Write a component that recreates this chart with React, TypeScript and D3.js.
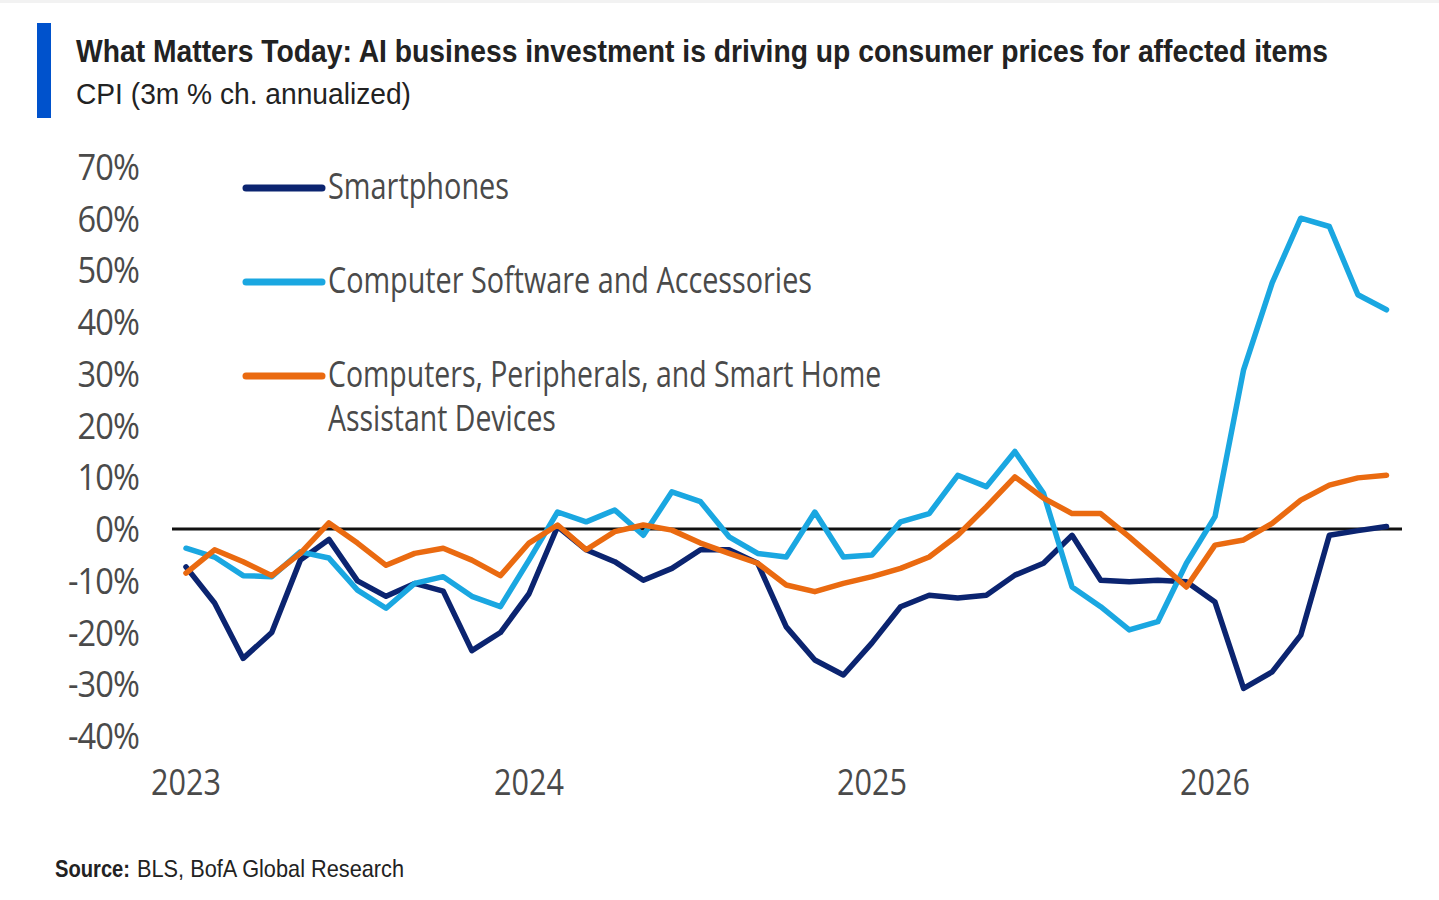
import React, { useLayoutEffect, useRef, useState } from "react";
import * as d3 from "d3";

const startMonth = new Date(2023, 0, 1);
const monthCount = 43;
const months: Date[] = d3.timeMonth.range(startMonth, d3.timeMonth.offset(startMonth, monthCount));

const smartphones: number[] = [
  -7.3, -14.3, -25, -20, -6, -2, -10, -13, -10.5, -12, -23.5, -20,
  -12.5, 0.5, -4, -6.3, -9.9, -7.6, -4, -4, -6.6, -18.9, -25.3, -28.2,
  -22, -15, -12.8, -13.3, -12.8, -8.9, -6.6, -1.2, -9.9, -10.2, -9.9, -10.2,
  -14.1, -30.8, -27.6, -20.5, -1.2, -0.3, 0.5,
];
const software: number[] = [
  -3.7, -5.4, -9, -9.2, -4.4, -5.6, -11.8, -15.3, -10.5, -9.2, -13, -15,
  -6, 3.3, 1.4, 3.7, -1.2, 7.2, 5.3, -1.5, -4.7, -5.4, 3.3, -5.4,
  -5, 1.4, 3, 10.4, 8.2, 15, 6.9, -11.2, -15, -19.5, -17.9, -6.6,
  2.4, 30.8, 47.6, 60.1, 58.5, 45.3, 42.4,
];
const computers: number[] = [
  -8.5, -4, -6.3, -9, -4.7, 1.2, -2.7, -7, -4.7, -3.7, -6, -9,
  -2.7, 0.8, -4, -0.5, 0.8, -0.2, -2.7, -4.7, -6.6, -10.8, -12.1, -10.5,
  -9.2, -7.6, -5.4, -1.2, 4.3, 10.1, 6, 3, 3, -1.5, -6.3, -11.2,
  -3.1, -2.1, 1.1, 5.6, 8.5, 9.9, 10.4,
];

const yTicks: number[] = [70, 60, 50, 40, 30, 20, 10, 0, -10, -20, -30, -40];
const yearTicks: Date[] = [new Date(2023, 0, 1), new Date(2024, 0, 1), new Date(2025, 0, 1), new Date(2026, 0, 1)];

const seriesNames: string[][] = [
  ["Smartphones"],
  ["Computer Software and Accessories"],
  ["Computers, Peripherals, and Smart Home", "Assistant Devices"],
];
const seriesColors: string[] = ["#0b2470", "#1aa7e1", "#ea6a10"];

const titleText = "What Matters Today: AI business investment is driving up consumer prices for affected items";
const subtitleText = "CPI (3m % ch. annualized)";

function FitText(props: {
  x: number;
  y: number;
  width: number;
  fontFamily: string;
  fontSize: number;
  fontWeight?: string;
  fill: string;
  lines: string[];
  lineHeight?: number;
}) {
  const ref = useRef<SVGTSpanElement>(null);
  const [sx, setSx] = useState(0.8);
  const key = props.lines.join("|");
  useLayoutEffect(() => {
    if (ref.current) {
      const w = ref.current.getComputedTextLength();
      if (w > 0) setSx(props.width / w);
    }
  }, [props.width, key]);
  return (
    <g transform={`translate(${props.x}, ${props.y}) scale(${sx}, 1)`}>
      <text fontFamily={props.fontFamily} fontSize={props.fontSize} fontWeight={props.fontWeight} fill={props.fill}>
        {props.lines.map((l, i) => (
          <tspan key={i} ref={i === 0 ? ref : undefined} x={0} y={i * (props.lineHeight || 0)}>
            {l}
          </tspan>
        ))}
      </text>
    </g>
  );
}

export default function App() {
  const W = 1439;
  const H = 900;
  const monthIndex = (d: Date) => d3.timeMonth.count(startMonth, d);
  const x = d3.scaleLinear().domain([0, 36]).range([186, 1215]);
  const y = d3.scaleLinear().domain([-40, 70]).range([736, 167]);

  const line = d3
    .line<number>()
    .x((_, i) => x(monthIndex(months[i])))
    .y((v) => y(v));

  const series = [smartphones, software, computers];
  const chartFont = "'Open Sans', 'Noto Sans', sans-serif";
  const textColor = "#4a4a4a";
  const headFont = "'Liberation Sans', Arial, sans-serif";

  const legendY = [188, 282, 376];
  const legendLens = [181, 484, 553];

  return (
    <div style={{ position: "absolute", left: 0, top: 0, width: W, height: H, background: "#fff" }}>
      <svg width={W} height={H} style={{ display: "block" }}>
        <rect x={0} y={0} width={W} height={3} fill="#f2f2f2" />
        <rect x={37} y={23} width={14} height={95} fill="#0052cc" />
        <FitText x={76} y={62} width={1252} fontFamily={headFont} fontWeight="bold" fontSize={32} fill="#222" lines={[titleText]} />
        <FitText x={76} y={104} width={335} fontFamily={headFont} fontSize={29} fill="#222" lines={[subtitleText]} />

        {/* y axis labels */}
        {yTicks.map((t) => (
          <g key={t} transform={`translate(139, ${y(t) + 13}) scale(0.88, 1)`}>
            <text x={0} y={0} textAnchor="end" fontFamily={chartFont} fontSize={37} fill={textColor} letterSpacing={-1}>
              {`${t}%`}
            </text>
          </g>
        ))}

        {/* x axis labels */}
        {yearTicks.map((d) => (
          <FitText
            key={d.getFullYear()}
            x={x(monthIndex(d)) - 35}
            y={795}
            width={70}
            fontFamily={chartFont}
            fontSize={37}
            fill={textColor}
            lines={[d3.timeFormat("%Y")(d)]}
          />
        ))}

        {/* zero line */}
        <line x1={172} x2={1402} y1={y(0)} y2={y(0)} stroke="#111" strokeWidth={3} />

        {/* series */}
        {series.map((s, k) => (
          <path
            key={k}
            d={line(s) || ""}
            fill="none"
            stroke={seriesColors[k]}
            strokeWidth={5.5}
            strokeLinejoin="round"
            strokeLinecap="round"
          />
        ))}

        {/* legend */}
        {seriesNames.map((name, k) => (
          <g key={name[0]}>
            <line x1={246} x2={322} y1={legendY[k]} y2={legendY[k]} stroke={seriesColors[k]} strokeWidth={7} strokeLinecap="round" />
            <FitText
              x={328}
              y={legendY[k] + 11}
              width={legendLens[k]}
              fontFamily={chartFont}
              fontSize={36}
              fill={textColor}
              lines={name}
              lineHeight={44}
            />
          </g>
        ))}

        {/* source */}
        <FitText x={55} y={877} width={75} fontFamily={headFont} fontWeight="bold" fontSize={24} fill="#222" lines={["Source:"]} />
        <FitText x={137} y={877} width={267} fontFamily={headFont} fontSize={24} fill="#222" lines={["BLS, BofA Global Research"]} />
      </svg>
    </div>
  );
}
